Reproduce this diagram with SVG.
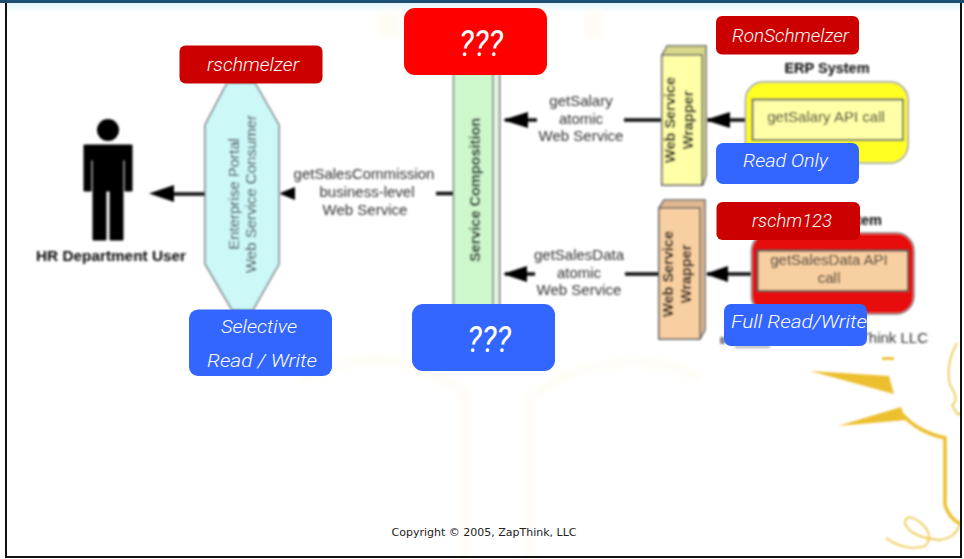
<svg xmlns="http://www.w3.org/2000/svg" width="964" height="559" viewBox="0 0 964 559">
<style>
.t{font-family:"Liberation Sans",Arial,sans-serif;font-size:15px;fill:#333;text-anchor:middle}
.b{font-weight:bold;fill:#0c0c0c;font-size:14.500px}
.o{font-family:Roboto,"Noto Sans",sans-serif;font-style:italic;font-weight:300;fill:#fff;font-size:18.500px}
.q{font-size:37px;font-weight:400}
.red{fill:#c00}.blue{fill:#36f}
.line{stroke:#111;stroke-width:3.500;fill:none}
.head{fill:#000}
.gold{fill:#ecbf2f}
.curl{fill:none;stroke:#eccb58;stroke-width:1.800}
.faint{fill:none;stroke:#fffcf5;stroke-width:9}
</style>
<defs><filter id="soft" x="-5%" y="-5%" width="110%" height="110%"><feGaussianBlur stdDeviation="0.85"/></filter>
<filter id="wide" x="-5%" y="-5%" width="110%" height="110%"><feGaussianBlur stdDeviation="3"/></filter>
<linearGradient id="top" x1="0" y1="0" x2="0" y2="1"><stop offset="0" stop-color="#e4f5f8"/><stop offset="1" stop-color="#fff"/></linearGradient></defs>
<rect width="964" height="559" fill="#fff"/>
<rect x="6" y="3" width="954" height="10" fill="url(#top)"/>
<g id="background-faint" filter="url(#wide)">
<path class="faint" d="M300 382Q345 358 385 360Q425 368 465 392V559"/>
<path class="faint" d="M535 395Q575 362 640 362Q680 365 700 380"/>
<path class="faint" d="M530 395V559"/>
<rect x="378" y="12" width="22" height="26" fill="#fffcf4"/>
<rect x="585" y="12" width="18" height="26" fill="#fffbf5"/>
</g>
<g id="background-gold" filter="url(#soft)">
<polygon class="gold" points="810,371 889,376 894,394"/>
<polygon class="gold" points="838,426 901,407 906,420"/>
<path d="M903 415Q918 432 945 438V505Q950 520 961 524" fill="none" stroke="#ecbf2f" stroke-width="3.500"/>
<path class="curl" d="M886 538Q905 552 925 546Q935 535 920 522Q905 512 905 524Q912 538 940 540Q955 538 960 525"/>
<path class="curl" d="M957 343Q945 365 950 385Q960 400 952 405Q960 420 960 412"/>
<rect x="882" y="357" width="12" height="3" fill="#f0c040"/>
</g>
<rect x="6" y="2" width="955" height="555" fill="none" stroke="#111" stroke-width="2"/>
<rect width="964" height="3" fill="#1d4f73"/>
<g id="connectors" filter="url(#soft)">
<path class="line" d="M170 194H208"/><path class="head" d="M149 193.500L174 185V202Z"/>
<path class="head" d="M279 193.500L295 187V200Z"/>
<path class="line" d="M436 193.500H454"/>
<path class="line" d="M505 120H537"/><path class="head" d="M503 120L528 112V128Z"/>
<path class="line" d="M624 120H662"/>
<path class="line" d="M707 120H748"/><path class="head" d="M705 120L730 112V128Z"/>
<path class="line" d="M505 274H535"/><path class="head" d="M503 274L527 266V282Z"/>
<path class="line" d="M625 274H660"/>
<path class="line" d="M707 274H752"/><path class="head" d="M705 274L728 266V282Z"/>
</g>
<g id="hr-user" filter="url(#soft)">
<circle cx="108" cy="130" r="11" fill="#000"/>
<path d="M84 145H132V191H125V160H123V240H110V191H106V240H93V160H91V191H84Z" fill="#000" stroke="#000" stroke-linejoin="round" stroke-width="1"/>
<text class="t b" x="111" y="261" textLength="150" lengthAdjust="spacingAndGlyphs">HR Department User</text>
</g>
<g id="portal" filter="url(#soft)">
<polygon points="227,83 255,83 279,125 279,264 253,310 232,310 205,264 205,125" fill="#ccf8f8" stroke="#777" stroke-width="1.500"/>
<text class="t" transform="translate(239 194) rotate(-90)">Enterprise Portal</text>
<text class="t" transform="translate(256 194) rotate(-90)">Web Service Consumer</text>
</g>
<g id="labels" filter="url(#soft)">
<text class="t" x="364" y="179">getSalesCommission</text>
<text class="t" x="367" y="197">business-level</text>
<text class="t" x="365" y="215">Web Service</text>
<text class="t" x="581" y="106">getSalary</text>
<text class="t" x="581" y="124">atomic</text>
<text class="t" x="581" y="141">Web Service</text>
<text class="t" x="579" y="260">getSalesData</text>
<text class="t" x="579" y="278">atomic</text>
<text class="t" x="579" y="295">Web Service</text>
</g>
<g id="service-composition" filter="url(#soft)">
<rect x="453.500" y="70" width="46" height="240" fill="#ccf8cc" stroke="#777" stroke-width="1.500"/>
<rect x="493" y="70" width="6.500" height="240" fill="#e8f4e8" stroke="#777" stroke-width="1.500"/>
<text class="t b" transform="translate(480 190) rotate(-90)">Service Composition</text>
</g>
<g id="wrapper-1" filter="url(#soft)">
<path d="M662 55L667 46H706V176L703 185H662Z" fill="#d8d88a" stroke="#666" stroke-width="1.500"/>
<path d="M662 55H702V185H662Z" fill="#ffffa8" stroke="#666" stroke-width="1.500"/>
<text class="t b" transform="translate(675 120) rotate(-90)">Web Service</text>
<text class="t b" transform="translate(693 120) rotate(-90)">Wrapper</text>
</g>
<g id="wrapper-2" filter="url(#soft)">
<path d="M659 208L664 200H705V330L700 339H659Z" fill="#e0b890" stroke="#666" stroke-width="1.500"/>
<path d="M659 208H700V339H659Z" fill="#f8cfa0" stroke="#666" stroke-width="1.500"/>
<text class="t b" transform="translate(673 274) rotate(-90)">Web Service</text>
<text class="t b" transform="translate(691 274) rotate(-90)">Wrapper</text>
</g>
<g id="erp" filter="url(#soft)">
<text class="t b" x="827" y="73">ERP System</text>
<rect x="745.500" y="82" width="162.500" height="81" rx="18" fill="#ffff20" stroke="#999" stroke-width="1.500"/>
<rect x="752.500" y="99.500" width="150.500" height="40.500" fill="#ffffa8" stroke="#666" stroke-width="2"/>
<text class="t" x="826" y="122" fill="#222" style="fill:#222">getSalary API call</text>
</g>
<g id="crm" filter="url(#soft)">
<text class="t b" x="882" y="225" style="text-anchor:end">System</text>
<rect x="751.500" y="233" width="162.500" height="81" rx="18" fill="#e80c0c" stroke="#888" stroke-width="1.500"/>
<rect x="757.500" y="250.500" width="150.500" height="40.500" fill="#f8cfa0" stroke="#444" stroke-width="2"/>
<text class="t" x="829" y="265" style="fill:#222">getSalesData API</text>
<text class="t" x="829" y="283" style="fill:#222">call</text>
</g>
<g id="image-copyright" filter="url(#soft)">
<rect x="720" y="337" width="5" height="7" fill="#888"/>
<rect x="735" y="346" width="35" height="2" fill="#aaa"/>
<text class="t" x="928" y="343" style="text-anchor:end">Think LLC</text>
</g>
<g id="red-top"><rect x="404" y="8" width="143" height="67" rx="11" fill="#f00"/><text class="o q" x="459" y="56" textLength="44" lengthAdjust="spacingAndGlyphs">???</text></g>
<g id="blue-bottom"><rect class="blue" x="412" y="304" width="143" height="67" rx="11"/><text class="o q" x="467" y="352" textLength="44" lengthAdjust="spacingAndGlyphs">???</text></g>
<g id="tag-rschmelzer"><rect class="red" x="179.500" y="45.500" width="143" height="38" rx="6"/><text class="o" x="207" y="71" textLength="92" lengthAdjust="spacingAndGlyphs">rschmelzer</text></g>
<g id="tag-ronschmelzer"><rect class="red" x="716" y="16" width="143" height="38.500" rx="6"/><text class="o" x="732" y="42" textLength="117" lengthAdjust="spacingAndGlyphs">RonSchmelzer</text></g>
<g id="tag-rschm123"><rect class="red" x="716.500" y="202" width="143.500" height="38" rx="6"/><text class="o" x="752" y="227" textLength="80" lengthAdjust="spacingAndGlyphs">rschm123</text></g>
<g id="tag-readonly"><rect class="blue" x="716" y="143" width="143" height="41" rx="7"/><text class="o" x="743" y="167" textLength="85" lengthAdjust="spacingAndGlyphs">Read Only</text></g>
<g id="tag-full"><rect class="blue" x="724" y="304" width="143" height="42" rx="7"/><text class="o" x="731" y="328" textLength="136" lengthAdjust="spacingAndGlyphs">Full Read/Write</text></g>
<g id="tag-selective"><rect class="blue" x="189" y="309.500" width="143" height="66.500" rx="9"/><text class="o" x="221" y="333" textLength="76" lengthAdjust="spacingAndGlyphs">Selective</text><text class="o" x="207" y="367" textLength="110" lengthAdjust="spacingAndGlyphs">Read / Write</text></g>
<text id="copyright" x="484" y="536" text-anchor="middle" style="font-family:'DejaVu Sans',Verdana,sans-serif;font-size:11px;fill:#222">Copyright © 2005, ZapThink, LLC</text>
</svg>
